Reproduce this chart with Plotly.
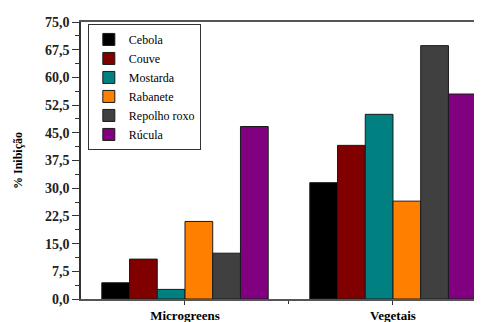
import plotly.graph_objects as go

categories = ["Microgreens", "Vegetais"]
series_names = ["Cebola", "Couve", "Mostarda", "Rabanete", "Repolho roxo", "Rúcula"]
cebola = [4.4, 31.5]
couve = [10.8, 41.6]
mostarda = [2.6, 50.0]
rabanete = [21.0, 26.5]
repolho_roxo = [12.4, 68.6]
rucula = [46.7, 55.5]
y_tick_vals = [0, 7.5, 15, 22.5, 30, 37.5, 45, 52.5, 60, 67.5, 75]
y_tick_text = ["0,0", "7,5", "15,0", "22,5", "30,0", "37,5", "45,0", "52,5", "60,0", "67,5", "75,0"]

series_values = [cebola, couve, mostarda, rabanete, repolho_roxo, rucula]
colors = ["#000000", "#800000", "#008080", "#FF8000", "#404040", "#800080"]

fig = go.Figure()
for name, vals, col in zip(series_names, series_values, colors):
    fig.add_trace(go.Bar(
        x=[0, 1], y=vals, name=name,
        marker=dict(color=col, line=dict(color="#1a1a1a", width=1)),
    ))

serif = "Times New Roman"
# page body has an 8px default margin, so the figure is drawn 8px in from top-left
fig.update_layout(
    width=474, height=314,
    margin=dict(l=73, r=0, t=14, b=23),
    paper_bgcolor="white", plot_bgcolor="white",
    barmode="group", bargap=0.2, bargroupgap=0,
    font=dict(family=serif, color="black"),
    showlegend=True,
    legend=dict(
        x=0.017, y=0.993, xanchor="left", yanchor="top",
        bgcolor="white", bordercolor="#333333", borderwidth=1,
        font=dict(family=serif, size=12, color="black"),
        tracegroupgap=0, itemwidth=30,
    ),
    xaxis=dict(
        range=[-0.5, 1.428], automargin=False,
        tickmode="array", tickvals=[0, 1], ticktext=categories,
        ticks="outside", ticklen=4, tickcolor="#333333",
        tickfont=dict(family=serif, size=13, color="black", weight="bold"),
        showline=True, linecolor="#555555", linewidth=1.5, mirror=True,
        showgrid=False, zeroline=False,
        minor=dict(tickvals=[0.5], ticks="outside", ticklen=3, tickcolor="#333333"),
    ),
    yaxis=dict(
        range=[0, 75], automargin=False,
        tickmode="array", tickvals=y_tick_vals, ticktext=y_tick_text,
        ticks="outside", ticklen=7, tickcolor="#333333",
        tickfont=dict(family=serif, size=14, color="#222222", weight="bold"),
        showline=True, linecolor="#333333", linewidth=1.5,
        showgrid=False, zeroline=False,
        minor=dict(dtick=3.75, tick0=0, ticks="outside", ticklen=4, tickcolor="#333333"),
        title=dict(text="% Inibição", font=dict(family=serif, size=12, color="black", weight="bold"), standoff=20),
    ),
)

fig.write_html("out.html")
